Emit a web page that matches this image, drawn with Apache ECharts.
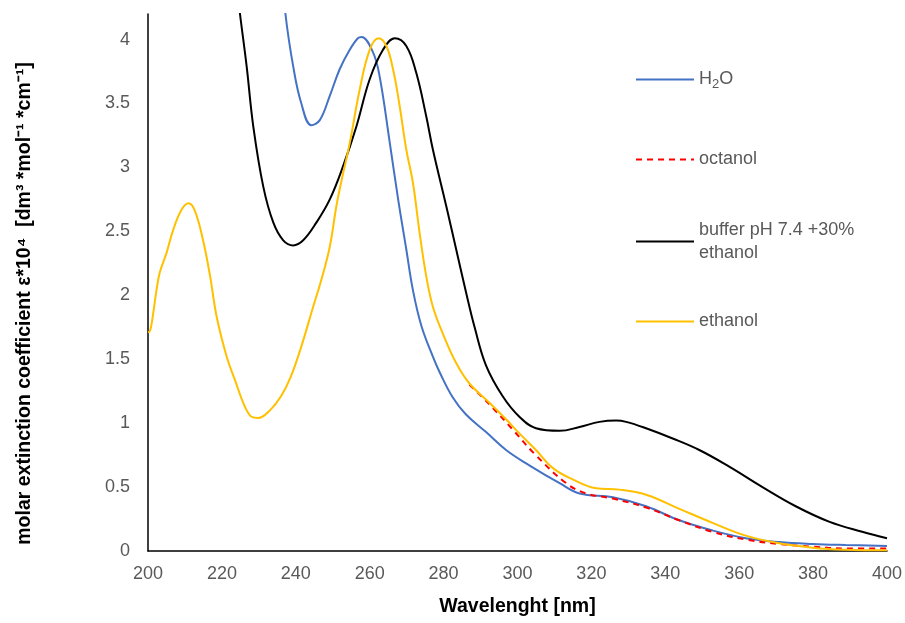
<!DOCTYPE html>
<html>
<head>
<meta charset="utf-8">
<script src="https://cdn.jsdelivr.net/npm/echarts@6/dist/echarts.min.js"></script>
<style>html,body{margin:0;padding:0;background:#fff;}#c{width:905px;height:623px;}</style>
</head>
<body>
<div id="c"></div>
<script>
// ---- data ----
const xTicks = [200, 220, 240, 260, 280, 300, 320, 340, 360, 380, 400];
const yTicks = [0, 0.5, 1, 1.5, 2, 2.5, 3, 3.5, 4];

const seriesNames = ['H2O', 'octanol', 'buffer pH 7.4 +30% ethanol', 'ethanol'];

const h2oX = [236.5, 237.2, 239.3, 241.5, 244.2, 246.5, 249.2, 251.9, 254.6, 256.8, 257.8, 260.9, 262.7, 265.4, 267.7, 269.9, 271.7, 274, 277.1, 278.9, 282.5, 286, 291.5, 296.9, 303.2, 311.4, 316.8, 325.8, 334.8, 343.8, 352.8, 361.8, 370.8, 379.8, 388.8, 400];
const h2oY = [4.5, 4.2, 3.79, 3.50, 3.33, 3.37, 3.56, 3.77, 3.92, 4.01, 4.02, 3.90, 3.71, 3.2, 2.75, 2.36, 2.04, 1.76, 1.52, 1.40, 1.20, 1.07, 0.93, 0.79, 0.67, 0.53, 0.45, 0.42, 0.35, 0.24, 0.16, 0.10, 0.07, 0.055, 0.047, 0.04];

const octX = [287, 290.6, 293.3, 298.7, 304.6, 313.2, 318.6, 325.8, 334.8, 343.8, 352.8, 361.8, 370.8, 379.8, 388.8, 400];
const octY = [1.30, 1.20, 1.12, 0.95, 0.76, 0.53, 0.45, 0.41, 0.34, 0.24, 0.15, 0.09, 0.055, 0.034, 0.02, 0.02];

const bufX = [223.5, 224.9, 226.7, 228.5, 231.2, 233.9, 236.6, 239.3, 242, 245.6, 249.2, 252.8, 256.4, 260, 263.6, 266.8, 269.9, 272.6, 275.3, 277.1, 280.7, 283.4, 286.1, 288.4, 291.5, 296, 300.5, 305, 311.4, 316.8, 322.2, 326.7, 329.4, 334.8, 342, 349.2, 357.3, 366.3, 375.3, 384.3, 393.3, 400];
const bufY = [4.55, 4.2, 3.79, 3.32, 2.85, 2.57, 2.43, 2.39, 2.43, 2.57, 2.75, 3.01, 3.32, 3.69, 3.92, 4.01, 3.95, 3.74, 3.40, 3.14, 2.70, 2.36, 2.02, 1.75, 1.45, 1.21, 1.05, 0.96, 0.94, 0.97, 1.01, 1.02, 1.01, 0.96, 0.88, 0.79, 0.66, 0.50, 0.35, 0.23, 0.15, 0.10];

const ethX = [200, 200.5, 201, 202.3, 203.2, 205, 206.8, 209.1, 211, 212.7, 214.9, 216.8, 218.6, 221.3, 223.5, 226.2, 228, 229.8, 233, 236, 238.6, 241.5, 244.7, 246.9, 249.2, 251, 252.4, 254.6, 257.3, 260, 262.4, 264.5, 266.3, 268, 269.9, 271.7, 273.5, 275.3, 277.1, 279.8, 283.4, 287, 292.4, 296.9, 300.5, 305, 309.5, 314.9, 321.3, 327.6, 334.8, 343.8, 352.8, 361.8, 370.8, 379.8, 388.8, 400];
const ethY = [1.71, 1.72, 1.78, 2.04, 2.18, 2.33, 2.51, 2.67, 2.72, 2.66, 2.43, 2.15, 1.83, 1.52, 1.34, 1.13, 1.05, 1.04, 1.10, 1.21, 1.36, 1.60, 1.91, 2.12, 2.38, 2.70, 2.90, 3.19, 3.61, 3.92, 4.01, 3.95, 3.77, 3.50, 3.14, 2.88, 2.49, 2.15, 1.91, 1.70, 1.47, 1.31, 1.16, 1.03, 0.92, 0.79, 0.65, 0.56, 0.49, 0.48, 0.44, 0.33, 0.22, 0.12, 0.06, 0.026, 0.01, 0.005];

const colors = ['#4472C4', '#FF0000', '#000000', '#FFC000'];

function pairs(xs, ys) { return xs.map((x, i) => [x, ys[i]]); }

const FONT = 'Liberation Sans';
const chart = echarts.init(document.getElementById('c'), null, { renderer: 'canvas' });

const legendText = { color: '#595959', fontFamily: FONT, fontSize: 18, lineHeight: 23 };

function legendAt(name, top, extra) {
  return Object.assign({
    data: [name], left: 635, top: top, padding: 0, orient: 'vertical',
    itemWidth: 58, itemHeight: 14, itemGap: 0, itemStyle: { opacity: 0 },
    selectedMode: false,
    textStyle: legendText
  }, extra || {});
}

chart.setOption({
  animation: false,
  backgroundColor: '#ffffff',
  color: colors,
  grid: { left: 148, right: 17, top: 14, bottom: 72, containLabel: false },
  legend: [
    legendAt(seriesNames[0], 68, {
      formatter: () => '{n|H}{s|2}{n|O}',
      textStyle: Object.assign({}, legendText, {
        rich: {
          n: { color: '#595959', fontFamily: FONT, fontSize: 18, lineHeight: 23 },
          s: { color: '#595959', fontFamily: FONT, fontSize: 13, lineHeight: 13, verticalAlign: 'bottom' }
        }
      })
    }),
    legendAt(seriesNames[1], 148),
    legendAt(seriesNames[2], 207, {
      formatter: () => 'buffer pH 7.4 +30%\nethanol',
      textStyle: Object.assign({}, legendText, { padding: [23, 0, 0, 0] })
    }),
    legendAt(seriesNames[3], 310)
  ],
  xAxis: {
    type: 'value', min: xTicks[0], max: xTicks[xTicks.length - 1], interval: 20,
    name: 'Wavelenght [nm]', nameLocation: 'middle', nameGap: 46,
    nameTextStyle: { color: '#000', fontFamily: FONT, fontSize: 19.5, fontWeight: 'bold' },
    axisLine: { show: true, onZero: false, lineStyle: { color: '#000', width: 1.5 } },
    axisTick: { show: false },
    splitLine: { show: false },
    axisLabel: { color: '#595959', fontFamily: FONT, fontSize: 18, margin: 14 }
  },
  yAxis: {
    type: 'value', min: yTicks[0], max: 4.2, interval: 0.5,
    name: 'molar extinction coefficient \u03b5*10\u2074  [dm\u00b3 *mol\u207b\u00b9 *cm\u207b\u00b9]',
    nameLocation: 'middle', nameGap: 113, nameRotate: 90,
    nameTextStyle: { color: '#000', fontFamily: FONT, fontSize: 19.5, fontWeight: 'bold', padding: [0, 42, 0, 0] },
    axisLine: { show: true, lineStyle: { color: '#000', width: 1.5 } },
    axisTick: { show: false },
    splitLine: { show: false },
    axisLabel: {
      color: '#595959', fontFamily: FONT, fontSize: 18, margin: 18,
      formatter: v => (yTicks.indexOf(v) >= 0 ? String(v) : '')
    }
  },
  series: [
    { name: seriesNames[0], type: 'line', data: pairs(h2oX, h2oY), showSymbol: false, symbol: 'none', smooth: 0.4, clip: true,
      lineStyle: { color: colors[0], width: 2 } },
    { name: seriesNames[1], type: 'line', data: pairs(octX, octY), showSymbol: false, symbol: 'none', smooth: 0.4, clip: true,
      lineStyle: { color: colors[1], width: 2, type: [6, 5] } },
    { name: seriesNames[2], type: 'line', data: pairs(bufX, bufY), showSymbol: false, symbol: 'none', smooth: 0.4, clip: true,
      lineStyle: { color: colors[2], width: 2 } },
    { name: seriesNames[3], type: 'line', data: pairs(ethX, ethY), showSymbol: false, symbol: 'none', smooth: 0.4, clip: true,
      lineStyle: { color: colors[3], width: 2 } }
  ]
});
</script>
</body>
</html>
